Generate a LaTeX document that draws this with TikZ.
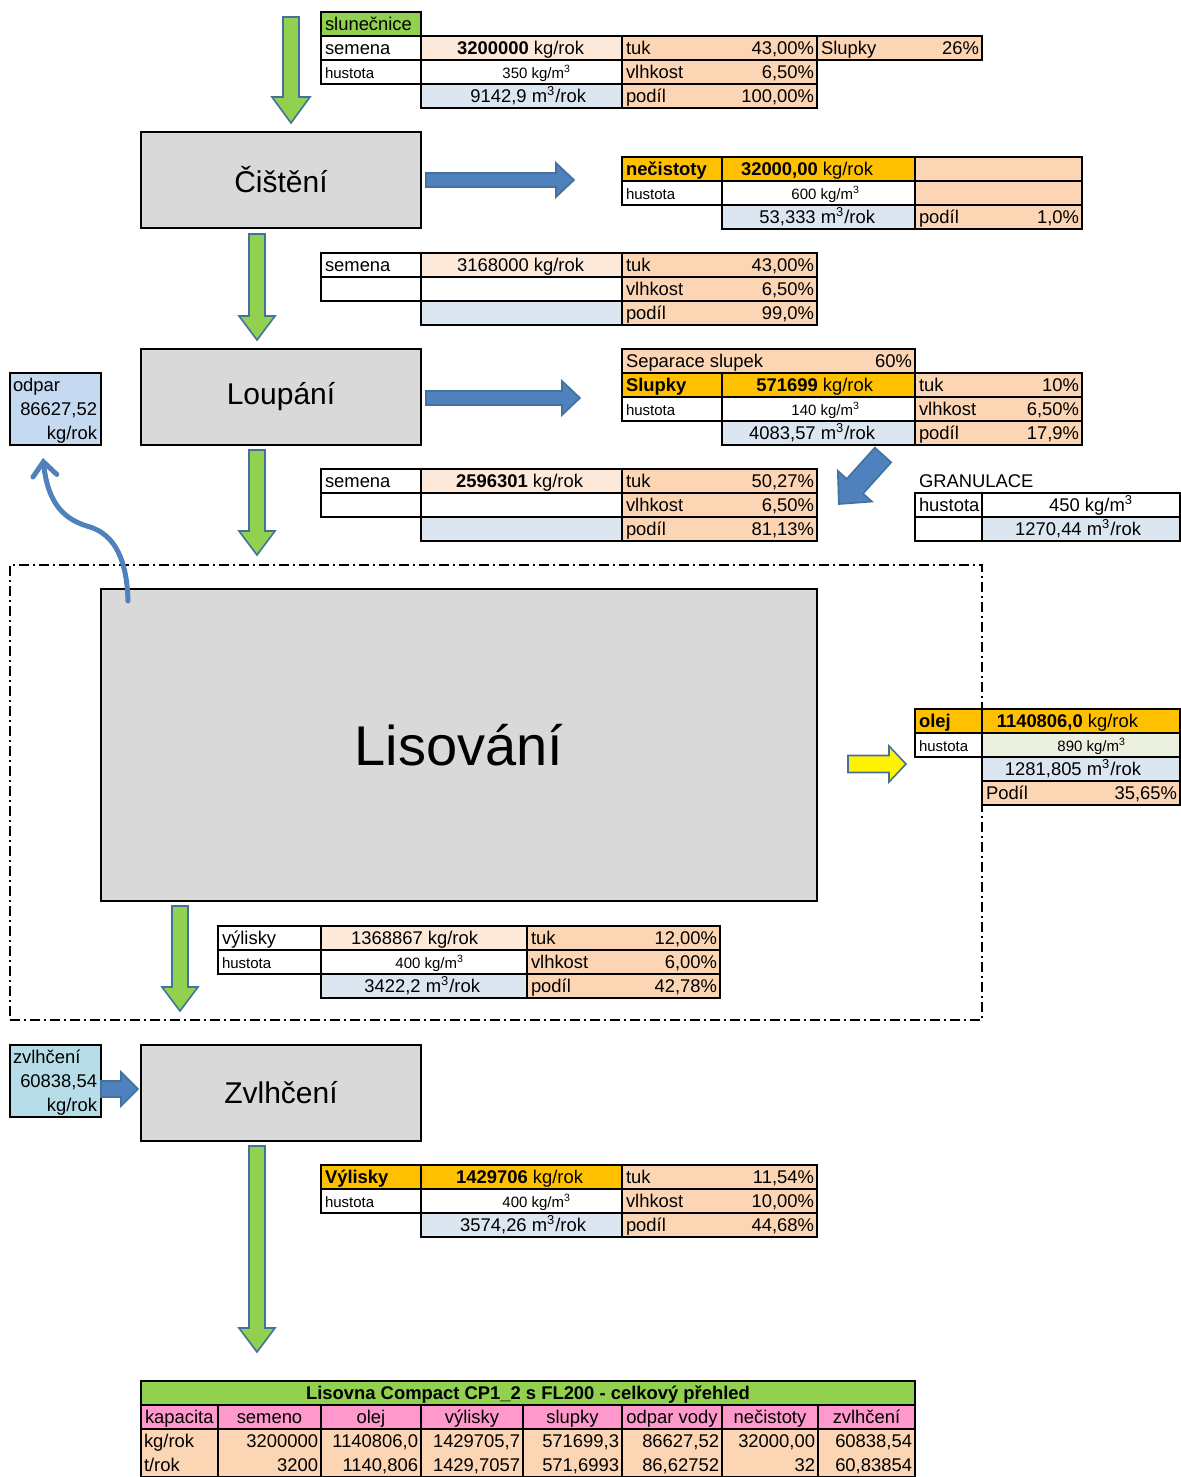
\documentclass[tikz,border=0pt]{standalone}
\usepackage{fontspec}
\setmainfont{Liberation Sans}
\usetikzlibrary{arrows.meta}
\definecolor{cgreen}{HTML}{92D050}
\definecolor{cblue}{HTML}{4F81BD}
\definecolor{cborder}{HTML}{41719C}
\definecolor{cgray}{HTML}{D9D9D9}
\definecolor{cpeachl}{HTML}{FDE9D9}
\definecolor{cpeach}{HTML}{FCD5B4}
\definecolor{cbluel}{HTML}{DCE6F1}
\definecolor{corange}{HTML}{FFC000}
\definecolor{codpar}{HTML}{C5D9F1}
\definecolor{czvl}{HTML}{B7DEE8}
\definecolor{colive}{HTML}{EBF1DE}
\definecolor{cpink}{HTML}{FF99CC}
\tikzset{
  cellsty/.style={draw=black,line width=0.9pt,rectangle,inner sep=0pt,outer sep=0pt},
  txt/.style={inner sep=0pt,outer sep=0pt,yshift=-1pt,font=\fontsize{9.2}{11}\selectfont,text height=6.7pt,text depth=1.9pt},
  sm/.style={font=\fontsize{7.5}{9}\selectfont},
  proc/.style={draw=black,line width=1pt,fill=cgray,rectangle,inner sep=0pt,outer sep=0pt,font=\fontsize{15}{18}\selectfont},
  garrow/.style={fill=cgreen,draw=cborder,line width=0.8pt,line join=miter},
  barrowsty/.style={fill=cblue,draw=cborder,line width=0.8pt,line join=miter},
  yarrow/.style={fill=yellow,draw=cborder,line width=0.8pt,line join=miter},
  curvearrow/.style={draw=cblue,line width=2.5pt,line cap=round,-{Straight Barb[length=7pt,width=12pt,line cap=round]}}
}
\newcommand{\cel}[6]{\node[cellsty,fill=#6,minimum width={(#4-#2)*0.5pt},minimum height={(#5-#3)*0.5pt}] (#1) at ({(#2+#4)/2},{(#3+#5)/2}) {};}
\newcommand{\tl}[3][]{\node[txt,anchor=west,#1] (#2-l) at ([xshift=2pt]#2.west) {#3};}
\newcommand{\tr}[3][]{\node[txt,anchor=east,#1] (#2-r) at ([xshift=-1.5pt]#2.east) {#3};}
\newcommand{\tc}[3][]{\node[txt,#1] (#2-c) at (#2.center) {#3};}
\newcommand{\tv}[5][]{\node[txt,anchor=east,#1] (#2-v) at (#3,#4) {#5};}
\newcommand{\barrow}[8]{\begin{scope}[shift={(#1,#2)},rotate=#3]
  \draw[#8] (0,-#5) -- ({#4-#7},-#5) -- ({#4-#7},-#6) -- (#4,0) -- ({#4-#7},#6) -- ({#4-#7},#5) -- (0,#5) -- cycle;
  \end{scope}}
\newcommand{\msup}{m\textsuperscript{3}}
\begin{document}
\begin{tikzpicture}[x=0.5pt,y=-0.5pt]
\useasboundingbox (0,0) rectangle (1181,1477);

% dash-dot group
\node[draw=black,line width=0.75pt,dash pattern=on 5pt off 2pt on 1pt off 2pt,rectangle,inner sep=0pt,outer sep=0pt,minimum width={972*0.5pt},minimum height={455*0.5pt}] (grp) at (496,792.5) {};

% ---- top green arrow
\barrow{291}{17}{-90}{106}{8}{19}{26}{garrow}

% ---- table 1
\cel{t1h}{321}{12}{421}{36}{cgreen} \tl{t1h}{slunečnice}
\cel{t1a1}{321}{36}{421}{60}{white} \tl{t1a1}{semena}
\cel{t1a2}{421}{36}{622}{60}{cpeachl} \tv{t1a2}{584}{48}{\textbf{3200000} kg/rok}
\cel{t1a3}{622}{36}{817}{60}{cpeach} \tl{t1a3}{tuk} \tr{t1a3}{43,00\%}
\cel{t1a4}{817}{36}{982}{60}{cpeach} \tl{t1a4}{Slupky} \tr{t1a4}{26\%}
\cel{t1b1}{321}{60}{421}{84}{white} \tl[sm]{t1b1}{hustota}
\cel{t1b2}{421}{60}{622}{84}{white} \tv[sm]{t1b2}{571}{72}{350 kg/\msup}
\cel{t1b3}{622}{60}{817}{84}{cpeach} \tl{t1b3}{vlhkost} \tr{t1b3}{6,50\%}
\cel{t1c2}{421}{84}{622}{108}{cbluel} \tv{t1c2}{586}{96}{9142,9 \msup/rok}
\cel{t1c3}{622}{84}{817}{108}{cpeach} \tl{t1c3}{podíl} \tr{t1c3}{100,00\%}

% ---- Čištění
\node[proc,minimum width={280*0.5pt},minimum height={96*0.5pt}] (cist) at (281,180) {Čištění};
\barrow{426}{180}{0}{148}{7}{17}{18}{barrowsty}

% ---- nečistoty
\cel{t2a1}{622}{157}{722}{181}{corange} \tl{t2a1}{\textbf{nečistoty}}
\cel{t2a2}{722}{157}{915}{181}{corange} \tv{t2a2}{873}{169}{\textbf{32000,00} kg/rok}
\cel{t2a3}{915}{157}{1082}{181}{cpeach}
\cel{t2b1}{622}{181}{722}{205}{white} \tl[sm]{t2b1}{hustota}
\cel{t2b2}{722}{181}{915}{205}{white} \tv[sm]{t2b2}{860}{193}{600 kg/\msup}
\cel{t2b3}{915}{181}{1082}{205}{cpeach}
\cel{t2c2}{722}{205}{915}{229}{cbluel} \tv{t2c2}{875}{217}{53,333 \msup/rok}
\cel{t2c3}{915}{205}{1082}{229}{cpeach} \tl{t2c3}{podíl} \tr{t2c3}{1,0\%}

% ---- arrow 2 and table 3
\barrow{257}{234}{-90}{106}{8}{18}{24}{garrow}
\cel{t3a1}{321}{253}{421}{277}{white} \tl{t3a1}{semena}
\cel{t3a2}{421}{253}{622}{277}{cpeachl} \tv{t3a2}{584}{265}{3168000 kg/rok}
\cel{t3a3}{622}{253}{817}{277}{cpeach} \tl{t3a3}{tuk} \tr{t3a3}{43,00\%}
\cel{t3b1}{321}{277}{421}{301}{white}
\cel{t3b2}{421}{277}{622}{301}{white}
\cel{t3b3}{622}{277}{817}{301}{cpeach} \tl{t3b3}{vlhkost} \tr{t3b3}{6,50\%}
\cel{t3c2}{421}{301}{622}{325}{cbluel}
\cel{t3c3}{622}{301}{817}{325}{cpeach} \tl{t3c3}{podíl} \tr{t3c3}{99,0\%}

% ---- Loupání
\node[proc,minimum width={280*0.5pt},minimum height={96*0.5pt}] (loup) at (281,397) {Loupání};
\barrow{426}{398}{0}{154}{7}{17}{18}{barrowsty}

% ---- Separace / Slupky
\cel{t40}{622}{349}{915}{373}{cpeach} \tl{t40}{Separace slupek} \tr{t40}{60\%}
\cel{t4a1}{622}{373}{722}{397}{corange} \tl{t4a1}{\textbf{Slupky}}
\cel{t4a2}{722}{373}{915}{397}{corange} \tv{t4a2}{873}{385}{\textbf{571699} kg/rok}
\cel{t4a3}{915}{373}{1082}{397}{cpeach} \tl{t4a3}{tuk} \tr{t4a3}{10\%}
\cel{t4b1}{622}{397}{722}{421}{white} \tl[sm]{t4b1}{hustota}
\cel{t4b2}{722}{397}{915}{421}{white} \tv[sm]{t4b2}{860}{409}{140 kg/\msup}
\cel{t4b3}{915}{397}{1082}{421}{cpeach} \tl{t4b3}{vlhkost} \tr{t4b3}{6,50\%}
\cel{t4c2}{722}{421}{915}{445}{cbluel} \tv{t4c2}{875}{433}{4083,57 \msup/rok}
\cel{t4c3}{915}{421}{1082}{445}{cpeach} \tl{t4c3}{podíl} \tr{t4c3}{17,9\%}

% ---- odpar
\node[cellsty,fill=codpar,minimum width={91*0.5pt},minimum height={72*0.5pt}] (odpar) at (55.5,409) {};
\node[txt,anchor=west] (odpar-1) at (13,385) {odpar};
\node[txt,anchor=east] (odpar-2) at (97,409) {86627,52};
\node[txt,anchor=east] (odpar-3) at (97,433) {kg/rok};

% ---- arrow 3 and table 5
\barrow{257}{450}{-90}{105}{8}{18}{24}{garrow}
\cel{t5a1}{321}{469}{421}{493}{white} \tl{t5a1}{semena}
\cel{t5a2}{421}{469}{622}{493}{cpeachl} \tv{t5a2}{583}{481}{\textbf{2596301} kg/rok}
\cel{t5a3}{622}{469}{817}{493}{cpeach} \tl{t5a3}{tuk} \tr{t5a3}{50,27\%}
\cel{t5b1}{321}{493}{421}{517}{white}
\cel{t5b2}{421}{493}{622}{517}{white}
\cel{t5b3}{622}{493}{817}{517}{cpeach} \tl{t5b3}{vlhkost} \tr{t5b3}{6,50\%}
\cel{t5c2}{421}{517}{622}{541}{cbluel}
\cel{t5c3}{622}{517}{817}{541}{cpeach} \tl{t5c3}{podíl} \tr{t5c3}{81,13\%}

% ---- diagonal arrow and granulace
\barrow{883}{455}{228}{66}{11}{23}{24}{barrowsty}
\node[txt,anchor=west] (granlbl) at (919,481) {GRANULACE};
\cel{t6a1}{915}{493}{982}{517}{white} \tl{t6a1}{hustota}
\cel{t6a2}{982}{493}{1180}{517}{white} \tv{t6a2}{1133}{505}{450 kg/\msup}
\cel{t6b1}{915}{517}{982}{541}{white}
\cel{t6b2}{982}{517}{1180}{541}{cbluel} \tv{t6b2}{1141}{529}{1270,44 \msup/rok}

% ---- Lisování
\node[proc,minimum width={716*0.5pt},minimum height={312*0.5pt},font=\fontsize{28}{32}\selectfont] (lis) at (459,745) {Lisování};
\coordinate (odparStart) at (128,601);
\coordinate (odparEnd) at (43,458);
\draw[curvearrow] (odparStart) .. controls (127,560) and (115,535) .. (90,527) .. controls (65,520) and (48,505) .. (odparEnd);

% ---- olej
\barrow{848}{764}{0}{58}{8.5}{18}{17}{yarrow}
\cel{t7a1}{915}{709}{982}{733}{corange} \tl{t7a1}{\textbf{olej}}
\cel{t7a2}{982}{709}{1180}{733}{corange} \tv{t7a2}{1138}{721}{\textbf{1140806,0} kg/rok}
\cel{t7b1}{915}{733}{982}{757}{white} \tl[sm]{t7b1}{hustota}
\cel{t7b2}{982}{733}{1180}{757}{colive} \tv[sm]{t7b2}{1126}{745}{890 kg/\msup}
\cel{t7c2}{982}{757}{1180}{781}{cbluel} \tv{t7c2}{1141}{769}{1281,805 \msup/rok}
\cel{t7d2}{982}{781}{1180}{805}{cpeach} \tl{t7d2}{Podíl} \tr{t7d2}{35,65\%}

% ---- arrow 4 and výlisky
\barrow{180}{906}{-90}{105}{8}{18}{24}{garrow}
\cel{t8a1}{218}{926}{321}{950}{white} \tl{t8a1}{výlisky}
\cel{t8a2}{321}{926}{527}{950}{cpeachl} \tv{t8a2}{478}{938}{1368867 kg/rok}
\cel{t8a3}{527}{926}{720}{950}{cpeach} \tl{t8a3}{tuk} \tr{t8a3}{12,00\%}
\cel{t8b1}{218}{950}{321}{974}{white} \tl[sm]{t8b1}{hustota}
\cel{t8b2}{321}{950}{527}{974}{white} \tv[sm]{t8b2}{464}{962}{400 kg/\msup}
\cel{t8b3}{527}{950}{720}{974}{cpeach} \tl{t8b3}{vlhkost} \tr{t8b3}{6,00\%}
\cel{t8c2}{321}{974}{527}{998}{cbluel} \tv{t8c2}{480}{986}{3422,2 \msup/rok}
\cel{t8c3}{527}{974}{720}{998}{cpeach} \tl{t8c3}{podíl} \tr{t8c3}{42,78\%}

% ---- zvlhčení
\node[cellsty,fill=czvl,minimum width={91*0.5pt},minimum height={72*0.5pt}] (zvlin) at (55.5,1081) {};
\node[txt,anchor=west] (zvlin-1) at (13,1057) {zvlhčení};
\node[txt,anchor=east] (zvlin-2) at (97,1081) {60838,54};
\node[txt,anchor=east] (zvlin-3) at (97,1105) {kg/rok};
\barrow{101}{1089}{0}{37}{8}{17}{17}{barrowsty}
\node[proc,minimum width={280*0.5pt},minimum height={96*0.5pt}] (zvl) at (281,1093) {Zvlhčení};

% ---- arrow 5 and Výlisky
\barrow{257}{1146}{-90}{206}{8}{18}{24}{garrow}
\cel{t9a1}{321}{1165}{421}{1189}{corange} \tl{t9a1}{\textbf{Výlisky}}
\cel{t9a2}{421}{1165}{622}{1189}{corange} \tv{t9a2}{583}{1177}{\textbf{1429706} kg/rok}
\cel{t9a3}{622}{1165}{817}{1189}{cpeach} \tl{t9a3}{tuk} \tr{t9a3}{11,54\%}
\cel{t9b1}{321}{1189}{421}{1213}{white} \tl[sm]{t9b1}{hustota}
\cel{t9b2}{421}{1189}{622}{1213}{white} \tv[sm]{t9b2}{571}{1201}{400 kg/\msup}
\cel{t9b3}{622}{1189}{817}{1213}{cpeach} \tl{t9b3}{vlhkost} \tr{t9b3}{10,00\%}
\cel{t9c2}{421}{1213}{622}{1237}{cbluel} \tv{t9c2}{586}{1225}{3574,26 \msup/rok}
\cel{t9c3}{622}{1213}{817}{1237}{cpeach} \tl{t9c3}{podíl} \tr{t9c3}{44,68\%}

% ---- summary table
\cel{btt}{141}{1381}{915}{1405}{cgreen} \tc{btt}{\textbf{Lisovna Compact CP1\_2 s FL200 - celkový přehled}}
\cel{bh1}{141}{1405}{218}{1429}{cpink} \tl{bh1}{kapacita}
\cel{bh2}{218}{1405}{321}{1429}{cpink} \tc{bh2}{semeno}
\cel{bh3}{321}{1405}{421}{1429}{cpink} \tc{bh3}{olej}
\cel{bh4}{421}{1405}{523}{1429}{cpink} \tc{bh4}{výlisky}
\cel{bh5}{523}{1405}{622}{1429}{cpink} \tc{bh5}{slupky}
\cel{bh6}{622}{1405}{722}{1429}{cpink} \tc{bh6}{odpar vody}
\cel{bh7}{722}{1405}{818}{1429}{cpink} \tc{bh7}{nečistoty}
\cel{bh8}{818}{1405}{915}{1429}{cpink} \tc{bh8}{zvlhčení}
\cel{bk1}{141}{1429}{218}{1477}{cpeach}
\cel{bk2}{218}{1429}{321}{1477}{cpeach}
\cel{bk3}{321}{1429}{421}{1477}{cpeach}
\cel{bk4}{421}{1429}{523}{1477}{cpeach}
\cel{bk5}{523}{1429}{622}{1477}{cpeach}
\cel{bk6}{622}{1429}{722}{1477}{cpeach}
\cel{bk7}{722}{1429}{818}{1477}{cpeach}
\cel{bk8}{818}{1429}{915}{1477}{cpeach}
\node[txt,anchor=west] (r1c1) at (144,1441) {kg/rok};
\node[txt,anchor=east] (r1c2) at (318,1441) {3200000};
\node[txt,anchor=east] (r1c3) at (418,1441) {1140806,0};
\node[txt,anchor=east] (r1c4) at (520,1441) {1429705,7};
\node[txt,anchor=east] (r1c5) at (619,1441) {571699,3};
\node[txt,anchor=east] (r1c6) at (719,1441) {86627,52};
\node[txt,anchor=east] (r1c7) at (815,1441) {32000,00};
\node[txt,anchor=east] (r1c8) at (912,1441) {60838,54};
\node[txt,anchor=west] (r2c1) at (144,1465) {t/rok};
\node[txt,anchor=east] (r2c2) at (318,1465) {3200};
\node[txt,anchor=east] (r2c3) at (418,1465) {1140,806};
\node[txt,anchor=east] (r2c4) at (520,1465) {1429,7057};
\node[txt,anchor=east] (r2c5) at (619,1465) {571,6993};
\node[txt,anchor=east] (r2c6) at (719,1465) {86,62752};
\node[txt,anchor=east] (r2c7) at (815,1465) {32};
\node[txt,anchor=east] (r2c8) at (912,1465) {60,83854};
\end{tikzpicture}
\end{document}
